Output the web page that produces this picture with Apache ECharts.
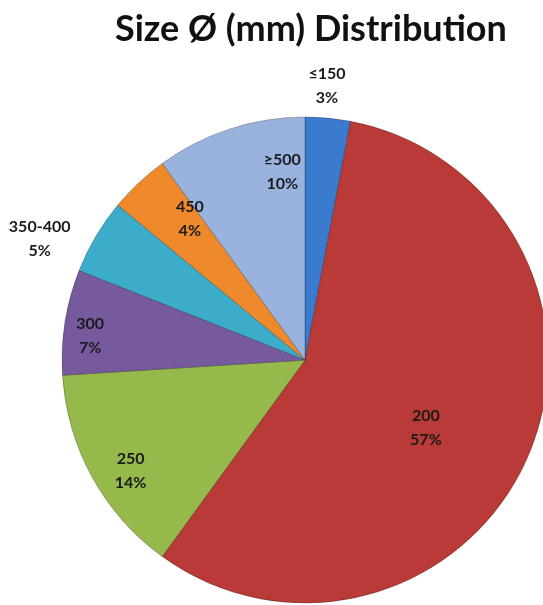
<!DOCTYPE html>
<html><head><meta charset="utf-8">
<script src="https://cdn.jsdelivr.net/npm/echarts@6/dist/echarts.min.js"></script>
<style>html,body{margin:0;padding:0;background:#fff}#c{width:543px;height:605px}</style>
</head><body><div id="c"></div>
<script>
const categories = ['≤150', '200', '250', '300', '350-400', '450', '≥500'];
const values = [3, 57, 14, 7, 5, 4, 10];
const colors = ['#3b7bcf', '#b93a36', '#96b94b', '#775a9e', '#3caccb', '#ef8a2c', '#99b3de'];
// label placement (polar: angle in degrees, radius fraction) – styling only
const labelAngle = [85.4, -29.2, 212.4, 173.6, 155.5, 129.2, 96.9];
const labelFrac = [1.13, 0.57, 0.85, 0.89, 1.2, 0.75, 0.78];

const chart = echarts.init(document.getElementById('c'), null, {renderer: 'canvas'});
const CX = 305, CY = 360, R = 243;
chart.setOption({
  animation: false,
  title: {
    text: 'Size Ø (mm) Distribution',
    left: 110, top: 6,
    textStyle: {fontFamily: 'Lato', fontWeight: 'bold', fontSize: 36, color: '#111'}
  },
  series: [{
    type: 'pie',
    center: [CX, CY],
    radius: R,
    startAngle: 90,
    clockwise: true,
    data: categories.map((c, i) => ({name: c, value: values[i], itemStyle: {color: colors[i]}})),
    itemStyle: {borderColor: 'rgba(0,0,0,0.25)', borderWidth: 1},
    label: {
      show: true, position: 'inside',
      formatter: '{b}\n{c}%',
      fontFamily: 'Lato', fontSize: 16, fontWeight: 'bold', color: '#1a1a1a', lineHeight: 24
    },
    labelLine: {show: false},
    labelLayout: function (p) {
      const a = labelAngle[p.dataIndex] * Math.PI / 180;
      const r = labelFrac[p.dataIndex] * R;
      return {x: CX + r * Math.cos(a), y: CY - r * Math.sin(a), align: 'center', verticalAlign: 'middle'};
    }
  }]
});
</script></body></html>
